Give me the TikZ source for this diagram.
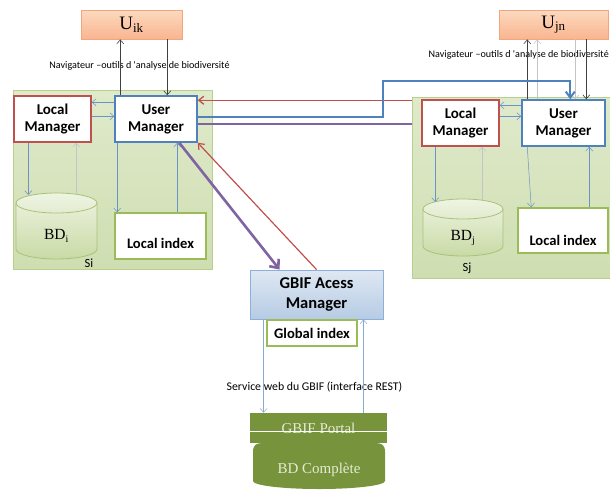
\documentclass[tikz,border=0pt]{standalone}
\usepackage{fontspec}
\setmainfont{Liberation Serif}
\newfontfamily\carl{Carlito}
\usetikzlibrary{arrows.meta,calc}
\definecolor{panelTop}{HTML}{DFEACB}
\definecolor{panelBot}{HTML}{CFDEB1}
\definecolor{panelBorder}{HTML}{B9CF8E}
\definecolor{redc}{HTML}{C0504D}
\definecolor{bluec}{HTML}{4F81BD}
\definecolor{purplec}{HTML}{8064A2}
\definecolor{greenc}{HTML}{9BBB59}
\definecolor{portalc}{HTML}{77933C}
\definecolor{portaltxt}{HTML}{E4ECD2}
\definecolor{thinblue}{HTML}{6A93C6}
\definecolor{lightgray}{HTML}{C4C4C4}
\definecolor{darkarr}{HTML}{404040}
\definecolor{uTop}{HTML}{FCD9BE}
\definecolor{uBot}{HTML}{F9B590}
\definecolor{uBorder}{HTML}{F2A57E}
\definecolor{gTop}{HTML}{DFE8F3}
\definecolor{gBot}{HTML}{B6CBE4}
\definecolor{gBorder}{HTML}{8DB0DA}
\definecolor{cylTop}{HTML}{EEF4E3}
\definecolor{cylBot}{HTML}{C9DAA5}
\definecolor{cylBorder}{HTML}{A9C27A}
\begin{document}
\begin{tikzpicture}[x=1pt,y=-1pt,
  panel/.style={draw=panelBorder, top color=panelTop, bottom color=panelBot, line width=0.8pt, inner sep=0pt},
  mgr/.style={draw, fill=white, line width=1.5pt, font=\carl\bfseries\fontsize{15}{17}\selectfont, align=center, inner sep=0pt},
  lmbox/.style={mgr, draw=redc},
  umbox/.style={mgr, draw=bluec},
  idxbox/.style={draw=greenc, fill=white, line width=1.3pt, inner sep=0pt},
  idxtxt/.style={font=\carl\bfseries\fontsize{14.6}{16}\selectfont, inner sep=0pt},
  ubox/.style={draw=uBorder, top color=uTop, bottom color=uBot, line width=0.8pt, font=\fontsize{19}{22}\selectfont, inner sep=0pt},
  cyl/.style={draw=cylBorder, top color=cylTop, bottom color=cylBot, line width=0.8pt},
  bdtxt/.style={font=\fontsize{15.5}{18}\selectfont, inner sep=0pt},
  smalltxt/.style={font=\carl\fontsize{10.1}{11}\selectfont, inner sep=0pt},
  thinarr/.style={-{Straight Barb[length=4pt,width=7pt]}, line width=0.5pt, draw=thinblue},
  grayarr/.style={-{Straight Barb[length=4pt,width=7pt]}, line width=0.5pt, draw=lightgray},
  darkarrow/.style={-{Straight Barb[length=4pt,width=7pt]}, line width=0.6pt, draw=darkarr},
  portaltext/.style={font=\fontsize{15}{18}\selectfont, text=portaltxt, inner sep=0pt}
]
\useasboundingbox (0,0) rectangle (610,490);

% ---------- Panels ----------
\node[panel, minimum width=199, minimum height=179] (Si) at (112.5,179.5) {};
\node[panel, minimum width=198, minimum height=181] (Sj) at (511,187.5) {};

% ---------- Users ----------
\node[ubox, minimum width=101, minimum height=29] (Uik) at (131.5,24.5) {U\textsubscript{\fontsize{13}{14}\selectfont ik}};
\node[ubox, minimum width=109, minimum height=29] (Ujn) at (553.5,24.5) {U\textsubscript{\fontsize{13}{14}\selectfont jn}};

% ---------- Site i ----------
\node[lmbox, minimum width=77, minimum height=46] (LMi) at (52.5,119) {Local\\Manager};
\node[umbox, minimum width=82, minimum height=46] (UMi) at (156,119) {User\\Manager};
\node[idxbox, minimum width=91, minimum height=46] (LIi) at (160.5,236) {};
\node[idxtxt] (LIit) at (160.5,243) {Local index};
\path[cyl] (16,203) -- (16,249) arc (180:360:40.5pt and 10pt) -- (97,203) arc (0:180:40.5pt and 10pt) -- cycle;
\draw[cylBorder, line width=0.8pt] (16,203) arc (180:360:40.5pt and 10pt);
\node[bdtxt] (BDi) at (56.5,236) {BD\textsubscript{\fontsize{10}{11}\selectfont i}};
\coordinate (BDiTop) at (56.5,193);
\node[font=\carl\fontsize{12.5}{14}\selectfont, inner sep=0pt] (SiL) at (89,263) {Si};

% ---------- Site j ----------
\node[lmbox, minimum width=77, minimum height=46] (LMj) at (460.5,123) {Local\\Manager};
\node[umbox, minimum width=83, minimum height=46] (UMj) at (563.5,123) {User\\Manager};
\node[idxbox, minimum width=90, minimum height=45] (LIj) at (563,230.5) {};
\node[idxtxt] (LIjt) at (563,240) {Local index};
\path[cyl] (423,209) -- (423,246) arc (180:360:40pt and 10pt) -- (503,209) arc (0:180:40pt and 10pt) -- cycle;
\draw[cylBorder, line width=0.8pt] (423,209) arc (180:360:40pt and 10pt);
\node[bdtxt] (BDj) at (463,238) {BD\textsubscript{\fontsize{10}{11}\selectfont j}};
\coordinate (BDjTop) at (463,199);
\node[font=\carl\fontsize{12.5}{14}\selectfont, inner sep=0pt] (SjL) at (467,268) {Sj};

% ---------- GBIF ----------
\node[draw=gBorder, top color=gTop, bottom color=gBot, line width=0.9pt, minimum width=133, minimum height=49, font=\carl\bfseries\fontsize{16.5}{20}\selectfont, align=center, inner sep=0pt] (GBIF) at (316.5,294.5) {GBIF Acess\\Manager};
\node[idxbox, minimum width=90, minimum height=26, font=\carl\bfseries\fontsize{14.6}{16}\selectfont] (GI) at (312,333) {Global index};

% ---------- Portal ----------
\fill[portalc] (253,452) .. controls (253,445) and (256,443) .. (263,443) -- (375,443) .. controls (382,443) and (385,445) .. (385,452) -- (385,481) arc (0:-180:66pt and 8pt) -- cycle;
\node[fill=portalc, minimum width=137, minimum height=30, inner sep=0pt] (Portal) at (318.5,428) {};
\node[portaltext] (PortalT) at (318.5,428) {GBIF Portal};
\draw[white, line width=0.5pt] ([yshift=-3]Portal.west) -- ([yshift=-3]Portal.east);
\node[portaltext] (BDC) at (319,470) {BD Complète};

% ---------- Texts ----------
\node[smalltxt] (nav1) at (139.5,66) {Navigateur –outils d 'analyse de biodiversité};
\node[smalltxt, anchor=east] (nav2) at (609,55) {Navigateur –outils d 'analyse de biodiversité};
\node[font=\carl\fontsize{11.8}{13}\selectfont, inner sep=0pt] (svc) at (314.5,387) {Service web du GBIF (interface REST)};

% ---------- User arrows ----------
\coordinate (ui1) at ([xshift=6]UMi.north west);
\coordinate (ui2) at ([xshift=53]UMi.north west);
\draw[darkarrow] (ui1) -- (ui1 |- Uik.south);
\draw[darkarrow] (ui2 |- Uik.south) -- (ui2);
\coordinate (uj1) at ([xshift=6]UMj.north west);
\coordinate (uj2) at ([xshift=16]UMj.north west);
\coordinate (uj3) at ([xshift=54]UMj.north west);
\coordinate (uj4) at ([xshift=65]UMj.north west);
\draw[darkarrow] (uj1) -- (uj1 |- Ujn.south);
\draw[grayarr] (uj2) -- (uj2 |- Ujn.south);
\draw[grayarr] (uj3 |- Ujn.south) -- (uj3);
\draw[darkarrow] (uj4 |- Ujn.south) -- (uj4);

% ---------- Internal arrows site i ----------
\coordinate (a1) at ([yshift=-7]UMi.north west);
\coordinate (a2) at ([yshift=-21]LMi.north east);
\draw[thinarr] (a1) -- (a1 -| LMi.east);
\draw[thinarr] (a2) -- (a2 -| UMi.west);
\coordinate (a3) at ([xshift=15]LMi.south west);
\coordinate (a4) at ([xshift=63]LMi.south west);
\draw[thinarr] (a3) -- ([yshift=-2]a3 |- BDiTop);
\draw[grayarr] ([yshift=-2]a4 |- BDiTop) -- (a4);
\coordinate (a5) at ([xshift=3]UMi.south west);
\coordinate (a6) at ([xshift=63]UMi.south west);
\draw[thinarr] (a5) -- (a5 |- LIi.north);
\draw[thinarr] (a6 |- LIi.north) -- (a6);

% ---------- Internal arrows site j ----------
\coordinate (b1) at ([yshift=-6]UMj.north west);
\coordinate (b2) at ([yshift=-17]LMj.north east);
\draw[thinarr] (b1) -- (b1 -| LMj.east);
\draw[thinarr] (b2) -- (b2 -| UMj.west);
\coordinate (b3) at ([xshift=14]LMj.south west);
\coordinate (b4) at ([xshift=61]LMj.south west);
\draw[thinarr] (b3) -- ([yshift=-3]b3 |- BDjTop);
\draw[grayarr] ([yshift=-2]b4 |- BDjTop) -- (b4);
\coordinate (b5) at ([xshift=6]UMj.south west);
\coordinate (b6) at ([xshift=68]UMj.south west);
\draw[thinarr] (b5) -- ([xshift=4]b5 |- LIj.north);
\draw[thinarr] (b6 |- LIj.north) -- (b6);

% ---------- Inter-site connectors ----------
\coordinate (r1) at ([yshift=-5]UMi.north east);
\draw[redc, line width=1.3pt, -{Straight Barb[length=5pt,width=8pt]}] (r1 -| Sj.west) -- (r1);
\coordinate (p1) at ([yshift=-5]UMi.east);
\draw[purplec, line width=1.6pt] (p1) -- (p1 -| Sj.west);
\coordinate (bl1) at ([yshift=2]UMi.east);
\coordinate (bend) at (383,81);
\coordinate (bl2) at ([xshift=49]UMj.north west);
\draw[bluec, line width=1.8pt, -{Straight Barb[length=6pt,width=9pt,line width=2pt]}] (bl1) -| (bend) -| (bl2);

% ---------- GBIF connectors ----------
\draw[purplec, line width=2.6pt, -{Straight Barb[length=7pt,width=12pt]}] ([xshift=65]UMi.south west) -- ([xshift=30]GBIF.north west);
\draw[redc, line width=1.2pt, -{Straight Barb[length=5pt,width=8pt]}] ([xshift=67]GBIF.north west) -- (UMi.south east);
\draw[thinarr, draw=thinblue!80] ([xshift=14]GBIF.south west) -- ([xshift=14]GBIF.south west |- Portal.north);
\coordinate (g2) at ([xshift=114]GBIF.south west);
\draw[thinarr, draw=thinblue!80] (g2 |- Portal.north) -- (g2);
\end{tikzpicture}
\end{document}
